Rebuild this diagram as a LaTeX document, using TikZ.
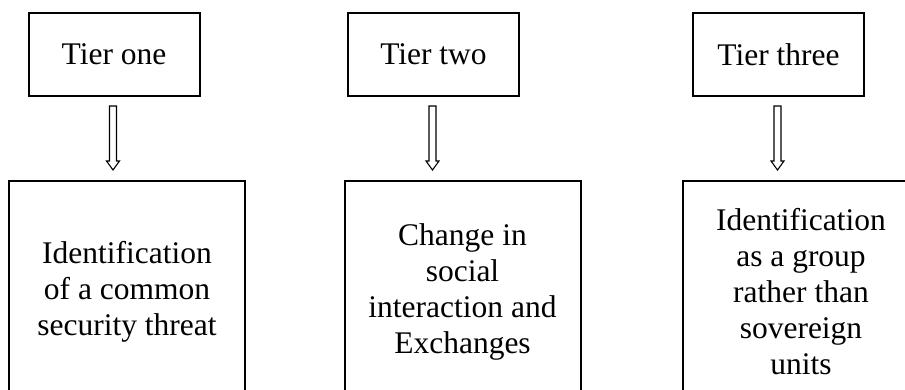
\documentclass[tikz,border=0pt]{standalone}
\usepackage{fontspec}
\setmainfont{Liberation Serif}
\usetikzlibrary{calc}
\begin{document}
\begin{tikzpicture}[x=1pt,y=1pt,
  textfont/.style={font=\fontsize{31.5}{36}\selectfont},
  tierbox/.style={draw, line width=2pt, minimum width=171pt, minimum height=83pt,
    inner sep=0pt, textfont},
  stagebox/.style={draw, line width=2pt, minimum width=236pt, minimum height=222pt,
    anchor=north, align=center, inner sep=0pt, textfont},
  hollowarrow/.style={draw, line width=1.1pt, line join=miter}]
% page area
\clip (0,0) rectangle (905,390);

% tier headings
\node[tierbox] (t1) at (114,335.5) {Tier one};
\node[tierbox] (t2) at (433.5,335.5) {Tier two};
\node[tierbox] (t3) at (778.5,335.5) {Tier three};

% stage boxes (running past the lower page edge)
\node[stagebox] (b1) at (127,210) {Identification\\of a common\\security threat};
\node[stagebox] (b2) at (462.5,210) {Change in\\social\\interaction and\\Exchanges};
\node[stagebox] (b3) at (801,210) {Identification\\as a group\\rather than\\sovereign\\units};

% narrow outlined block arrows from each heading to its box
\foreach \a/\b in {t1/b1, t2/b2, t3/b3}{
  \draw[hollowarrow] let \p1=($(\a.south)+(-1,-9)$), \p2=($(\b.north)+(-1,10)$) in
    (\x1-3.5pt,\y1) -- (\x1+3.5pt,\y1) -- (\x1+3.5pt,\y2+9pt) -- (\x1+6.5pt,\y2+9pt)
    -- (\x1,\y2) -- (\x1-6.5pt,\y2+9pt) -- (\x1-3.5pt,\y2+9pt) -- cycle;
}
\end{tikzpicture}
\end{document}
